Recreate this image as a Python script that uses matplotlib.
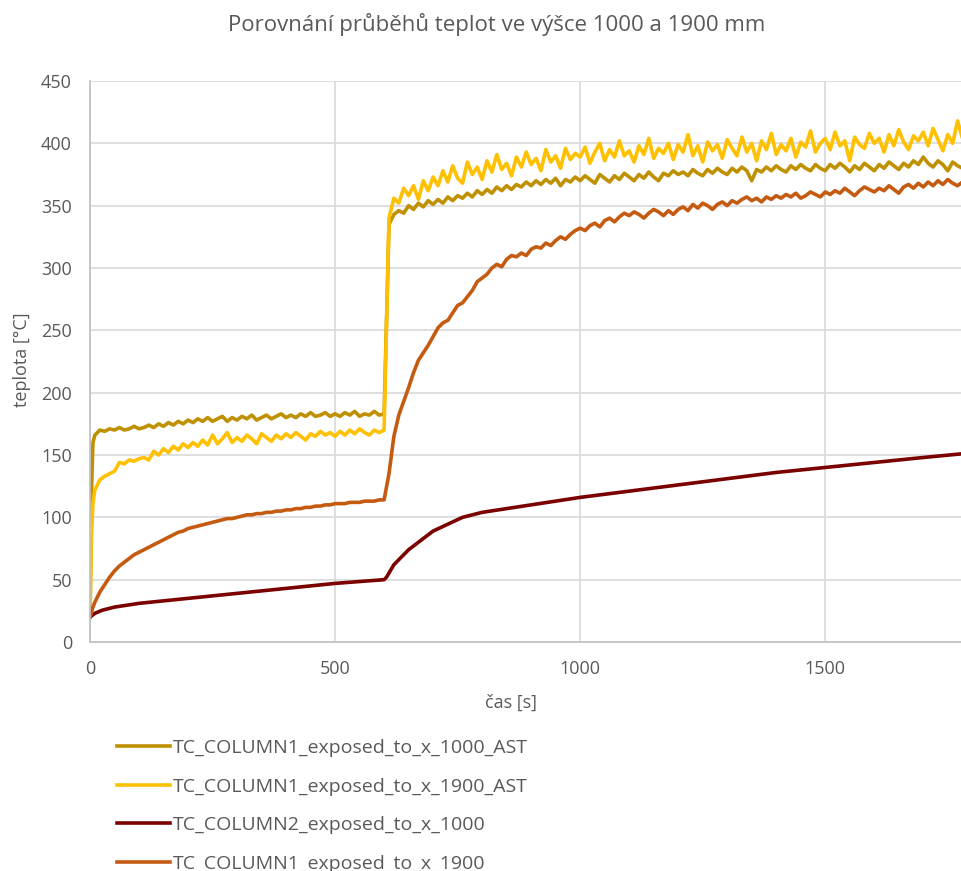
import numpy as np
import matplotlib
matplotlib.use("Agg")
import matplotlib.pyplot as plt

# casova osa pro mereni s krokem 10 s (plus nabeh na zacatku)
cas = np.concatenate([[0, 3, 6], np.arange(10, 1781, 10)])

# TC_COLUMN1_exposed_to_x_1000_AST
t1000_ast = [20, 120, 160,
             166, 170, 169, 171, 170, 172, 170, 171, 173, 171,
             172, 174, 172, 175, 173, 176, 174, 177, 175, 178,
             176, 179, 177, 180, 177, 179, 181, 177, 180, 178,
             181, 179, 182, 178, 180, 182, 179, 181, 183, 180,
             182, 180, 183, 181, 184, 181, 182, 184, 181, 183,
             181, 184, 182, 185, 181, 183, 182, 185, 182, 183,
             335, 343, 346, 344, 350, 347, 352, 349, 354, 351,
             355, 352, 357, 354, 358, 356, 360, 357, 362, 359,
             363, 360, 365, 362, 366, 363, 367, 365, 369, 366,
             370, 367, 371, 368, 372, 366, 371, 369, 373, 370,
             374, 371, 368, 375, 372, 369, 374, 371, 376, 373,
             370, 375, 372, 377, 373, 370, 376, 374, 378, 375,
             377, 374, 379, 376, 374, 379, 376, 380, 377, 375,
             380, 377, 381, 378, 370, 379, 377, 381, 378, 382,
             379, 377, 382, 379, 383, 380, 378, 383, 380, 378,
             383, 380, 384, 381, 377, 382, 379, 384, 381, 378,
             383, 380, 385, 382, 379, 384, 381, 386, 383, 389,
             384, 381, 386, 383, 378, 385, 382, 380]

# TC_COLUMN1_exposed_to_x_1900_AST
t1900_ast = [20, 85, 112,
             122, 130, 133, 135, 137, 144, 143, 146, 145, 147,
             148, 146, 153, 150, 155, 152, 157, 154, 159, 156,
             160, 157, 162, 158, 166, 159, 163, 168, 160, 164,
             161, 166, 163, 159, 167, 164, 161, 166, 163, 167,
             164, 168, 165, 162, 167, 165, 169, 166, 168, 165,
             169, 166, 170, 167, 171, 168, 166, 170, 168, 170,
             340, 356, 352, 364, 358, 366, 355, 370, 362, 373,
             366, 378, 369, 382, 372, 368, 385, 375, 381, 371,
             386, 377, 391, 379, 384, 374, 389, 381, 393, 383,
             388, 378, 395, 385, 390, 380, 396, 387, 392, 389,
             397, 384, 393, 400, 386, 395, 389, 402, 390, 394,
             385, 398, 391, 404, 388, 396, 392, 400, 387, 399,
             393, 407, 390, 398, 385, 401, 394, 399, 388, 403,
             396, 390, 405, 393, 400, 386, 402, 395, 408, 391,
             399, 394, 404, 389, 401, 397, 410, 393, 400, 404,
             395, 409, 398, 402, 386, 405, 399, 396, 408, 400,
             404, 393, 407, 398, 411, 401, 395, 406, 402, 409,
             398, 412, 403, 394, 407, 400, 418, 404]

# TC_COLUMN1_exposed_to_x_1900
t1900 = [20, 24, 28,
         32, 40, 46, 52, 57, 61, 64, 67, 70, 72,
         74, 76, 78, 80, 82, 84, 86, 88, 89, 91,
         92, 93, 94, 95, 96, 97, 98, 99, 99, 100,
         101, 102, 102, 103, 103, 104, 104, 105, 105, 106,
         106, 107, 107, 108, 108, 109, 109, 110, 110, 111,
         111, 111, 112, 112, 112, 113, 113, 113, 114, 114,
         135, 165, 182, 193, 204, 216, 226, 232, 238, 245,
         252, 256, 258, 264, 270, 272, 277, 282, 289, 292,
         295, 300, 303, 301, 307, 310, 309, 312, 310, 315,
         317, 316, 320, 318, 322, 325, 323, 327, 330, 332,
         330, 334, 336, 333, 338, 340, 337, 341, 344, 342,
         345, 343, 340, 344, 347, 345, 342, 346, 343, 347,
         349, 346, 351, 348, 352, 350, 347, 351, 353, 350,
         354, 352, 355, 357, 354, 356, 353, 357, 355, 358,
         356, 359, 357, 360, 356, 358, 361, 359, 357, 361,
         359, 362, 360, 364, 361, 358, 362, 365, 363, 361,
         364, 362, 366, 363, 360, 365, 367, 364, 368, 365,
         369, 366, 370, 367, 371, 368, 366, 369]

# TC_COLUMN2_exposed_to_x_1000 (hladky prubeh)
cas_c2 = [0, 10, 25, 50, 100, 150, 200, 300, 400, 500, 600, 605, 620, 650,
          700, 760, 800, 900, 1000, 1100, 1200, 1300, 1400, 1500, 1600, 1700, 1780]
t1000_c2 = [20, 23, 25.5, 28, 31, 33, 35, 39, 43, 47, 50, 52, 62, 74,
            89, 100, 104, 110, 116, 121, 126, 131, 136, 140, 144, 148, 151]

nazvy = ["TC_COLUMN1_exposed_to_x_1000_AST", "TC_COLUMN1_exposed_to_x_1900_AST",
         "TC_COLUMN2_exposed_to_x_1000", "TC_COLUMN1_exposed_to_x_1900"]
barvy = ["#BF9000", "#FFC000", "#7B0000", "#C55A11"]

plt.rcParams['font.family'] = ['Open Sans', 'DejaVu Sans']
sedy = "#595959"
fs = 13
fs_leg = 14

fig = plt.figure(figsize=(9.61, 8.71), dpi=100)
ax = fig.add_axes([90 / 961, 1 - 642 / 871, 1 - 90 / 961, (642 - 81) / 871])

ax.plot(cas, t1000_ast, color=barvy[0], lw=2.6, label=nazvy[0])
ax.plot(cas, t1900_ast, color=barvy[1], lw=2.6, label=nazvy[1])
ax.plot(cas_c2, t1000_c2, color=barvy[2], lw=2.6, label=nazvy[2])
ax.plot(cas, t1900, color=barvy[3], lw=2.6, label=nazvy[3])

ax.set_xlim(0, 1777)
ax.set_ylim(0, 450)
ax.set_xticks([0, 500, 1000, 1500])
ax.set_yticks(np.arange(0, 451, 50))
ax.grid(True, color="#d9d9d9", lw=1.2)
ax.set_axisbelow(True)
for s in ["top", "right"]:
    ax.spines[s].set_visible(False)
for s in ["left", "bottom"]:
    ax.spines[s].set_color("#bfbfbf")
    ax.spines[s].set_linewidth(1.2)
ax.tick_params(length=0, labelsize=fs, colors=sedy, pad=13)

ax.set_xlabel("čas [s]", fontsize=fs, color=sedy)
ax.xaxis.set_label_coords((511 - 90) / 871, (642 - 694) / 561)
ax.set_ylabel("teplota [°C]", fontsize=fs, color=sedy)
ax.yaxis.set_label_coords((31 - 90) / 871, (642 - 360) / 561)

fig.text(497 / 961, 1 - 25 / 871, "Porovnání průběhů teplot ve výšce 1000 a 1900 mm",
         ha="center", va="center", fontsize=16, color=sedy)

fig.legend(loc="upper left", bbox_to_anchor=(117 / 961, 1 - 739 / 871), frameon=False,
           fontsize=fs_leg, labelcolor=sedy, handlelength=53 / (fs_leg * 100 / 72),
           handletextpad=0.15, labelspacing=1.06, borderpad=0, borderaxespad=0)

fig.savefig("out.png", dpi=100)
